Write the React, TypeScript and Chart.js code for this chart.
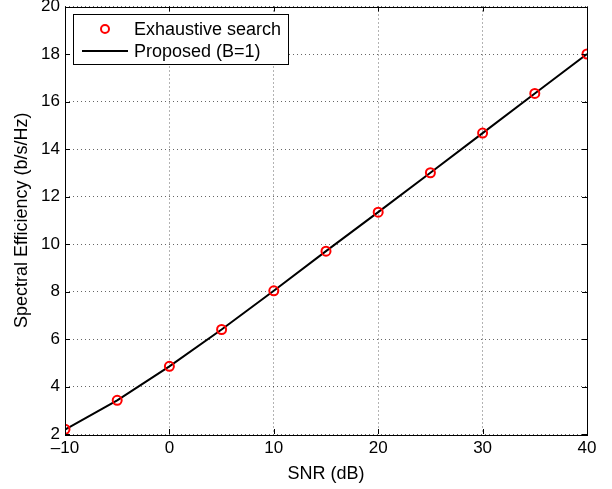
import React, { useEffect, useRef } from "react";
import { Chart, registerables } from "chart.js";

Chart.register(...registerables);

const snr = [-10, -5, 0, 5, 10, 15, 20, 25, 30, 35, 40];
const exhaustive = [2.2, 3.42, 4.85, 6.4, 8.03, 9.7, 11.34, 13.0, 14.67, 16.34, 18.0];
const proposed = [2.18, 3.42, 4.85, 6.4, 8.03, 9.7, 11.34, 13.0, 14.67, 16.34, 18.0];
const xTicks = [-10, 0, 10, 20, 30, 40];
const yTicks = [2, 4, 6, 8, 10, 12, 14, 16, 18, 20];
const legendLabels = ["Exhaustive search", "Proposed (B=1)"];

const FONT = "'Liberation Sans', Arial, Helvetica, sans-serif";

const framePlugin = {
  id: "frameTicks",
  afterDraw(chart: any) {
    const { ctx, chartArea } = chart;
    const { left, right, top, bottom } = chartArea;
    const xs = chart.scales.x;
    const ys = chart.scales.y;
    ctx.save();
    ctx.strokeStyle = "#000";
    ctx.lineWidth = 1;
    ctx.beginPath();
    const tl = 5;
    for (const v of xTicks) {
      const px = Math.round(xs.getPixelForValue(v)) + 0.5;
      ctx.moveTo(px, bottom);
      ctx.lineTo(px, bottom - tl);
      ctx.moveTo(px, top);
      ctx.lineTo(px, top + tl);
    }
    for (const v of yTicks) {
      const py = Math.round(ys.getPixelForValue(v)) + 0.5;
      ctx.moveTo(left, py);
      ctx.lineTo(left + tl, py);
      ctx.moveTo(right, py);
      ctx.lineTo(right - tl, py);
    }
    ctx.stroke();
    ctx.strokeRect(Math.round(left) + 0.5, Math.round(top) + 0.5, Math.round(right - left), Math.round(bottom - top));

    // legend
    const bx = 73, by = 14, bw = 215, bh = 50;
    ctx.fillStyle = "#fff";
    ctx.fillRect(bx, by, bw, bh);
    ctx.strokeRect(bx + 0.5, by + 0.5, bw, bh);
    ctx.font = `18px ${FONT}`;
    ctx.textBaseline = "middle";
    ctx.textAlign = "left";
    ctx.fillStyle = "#000";
    ctx.beginPath();
    ctx.strokeStyle = "#ff0000";
    ctx.lineWidth = 2;
    ctx.arc(105, 29, 4, 0, Math.PI * 2);
    ctx.stroke();
    ctx.fillText(legendLabels[0], 134, 30);
    ctx.beginPath();
    ctx.strokeStyle = "#000";
    ctx.lineWidth = 2;
    ctx.moveTo(82, 51);
    ctx.lineTo(128, 51);
    ctx.stroke();
    ctx.fillText(legendLabels[1], 134, 52);
    ctx.restore();
  },
};

export default function App() {
  const ref = useRef<HTMLCanvasElement>(null);
  useEffect(() => {
    if (!ref.current) return;
    const chart = new Chart(ref.current, {
      type: "line",
      data: {
        datasets: [
          {
            label: legendLabels[1],
            data: snr.map((x, i) => ({ x, y: proposed[i] })),
            borderColor: "#000",
            borderWidth: 2,
            pointRadius: 0,
            fill: false,
            tension: 0,
            order: 2,
          },
          {
            label: legendLabels[0],
            data: snr.map((x, i) => ({ x, y: exhaustive[i] })),
            showLine: false,
            pointRadius: 4.5,
            pointBorderWidth: 2,
            pointBorderColor: "#ff0000",
            pointBackgroundColor: "rgba(0,0,0,0)",
            borderColor: "#ff0000",
            order: 1,
          },
        ],
      },
      options: {
        animation: false,
        responsive: false,
        maintainAspectRatio: false,
        layout: { padding: { left: 0, right: 25, top: 6, bottom: 0 } },
        plugins: { legend: { display: false }, tooltip: { enabled: false } },
        scales: {
          x: {
            type: "linear",
            min: -10,
            max: 40,
            afterBuildTicks: (s: any) => {
              s.ticks = xTicks.map((v) => ({ value: v }));
            },
            afterFit: (s: any) => {
              s.height = 55;
              s.paddingLeft = 0;
              s.paddingRight = 0;
            },
            ticks: {
              color: "#000",
              font: { family: FONT, size: 17 },
              padding: 4,
              maxRotation: 0,
              callback: (v: any) => (Number(v) < 0 ? "\u2013" + Math.abs(Number(v)) : String(v)),
            },
            grid: {
              color: "rgba(0,0,0,0.6)",
              drawTicks: false,
            },
            border: { display: false, dash: [1, 3] },
            title: {
              display: true,
              text: "SNR (dB)",
              color: "#000",
              font: { family: FONT, size: 18 },
              padding: { top: 0, bottom: 4 },
            },
          },
          y: {
            type: "linear",
            min: 2,
            max: 20,
            afterBuildTicks: (s: any) => {
              s.ticks = yTicks.map((v) => ({ value: v }));
            },
            afterFit: (s: any) => {
              s.width = 65;
              s.paddingTop = 0;
              s.paddingBottom = 0;
            },
            ticks: {
              color: "#000",
              font: { family: FONT, size: 17 },
              padding: 5,
            },
            grid: {
              color: "rgba(0,0,0,0.6)",
              drawTicks: false,
            },
            border: { display: false, dash: [1, 3] },
            title: {
              display: true,
              text: "Spectral Efficiency (b/s/Hz)",
              color: "#000",
              font: { family: FONT, size: 18 },
              padding: { top: 11, bottom: 0 },
            },
          },
        },
      },
      plugins: [framePlugin],
    } as any);
    return () => chart.destroy();
  }, []);
  return (
    <div style={{ position: "fixed", left: 0, top: 0, width: 612, height: 489, background: "#fff" }}>
      <canvas ref={ref} width={612} height={489} style={{ width: 612, height: 489 }} />
    </div>
  );
}
